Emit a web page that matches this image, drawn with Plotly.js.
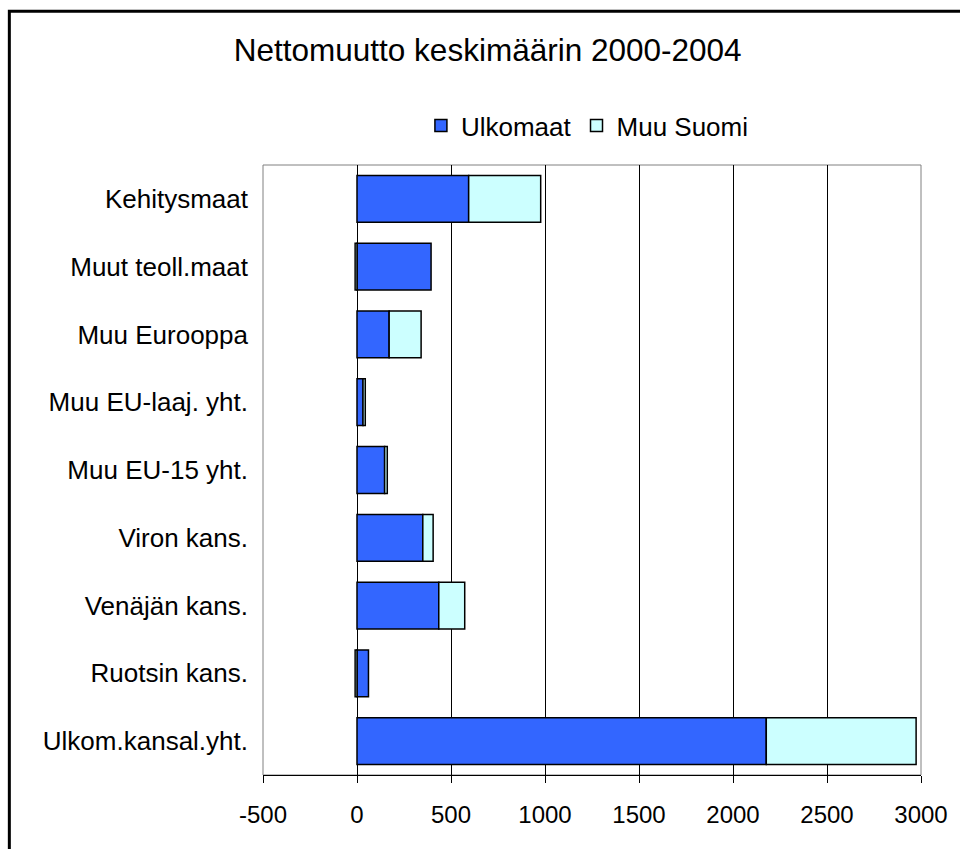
<!DOCTYPE html>
<html>
<head>
<meta charset="utf-8">
<script src="https://cdn.plot.ly/plotly-3.0.1.min.js"></script>
<style>
  html, body { margin: 0; padding: 0; background: #ffffff; }
  #chart { width: 960px; height: 849px; }
</style>
</head>
<body>
<div id="chart"></div>
<script>
// Categories, listed top to bottom as in the chart
const categories = [
  'Kehitysmaat',
  'Muut teoll.maat',
  'Muu Eurooppa',
  'Muu EU-laaj. yht.',
  'Muu EU-15 yht.',
  'Viron kans.',
  'Venäjän kans.',
  'Ruotsin kans.',
  'Ulkom.kansal.yht.'
];
// Net migration, yearly average 2000-2004
const ulkomaat = [594, 394, 171, 32, 147, 350, 435, 61, 2177];
const muuSuomi = [383, -10, 170, 12, 14, 55, 138, -10, 797];
const seriesNames = ['Ulkomaat', 'Muu Suomi'];
const xTickVals = [-500, 0, 500, 1000, 1500, 2000, 2500, 3000];
const titleText = 'Nettomuutto keskimäärin 2000-2004';

const FONT = 'Liberation Sans, Arial, sans-serif';

const traces = [
  {
    type: 'bar', orientation: 'h', name: seriesNames[0],
    y: categories, x: ulkomaat,
    marker: { color: '#3366FF', line: { color: '#000000', width: 1.5 } },
    hoverinfo: 'x+name'
  },
  {
    type: 'bar', orientation: 'h', name: seriesNames[1],
    y: categories, x: muuSuomi,
    marker: { color: '#CCFFFF', line: { color: '#000000', width: 1.5 } },
    hoverinfo: 'x+name'
  }
];

const layout = {
  width: 960, height: 849,
  margin: { l: 263, r: 39, t: 165, b: 74 },
  paper_bgcolor: '#ffffff',
  plot_bgcolor: '#ffffff',
  font: { family: FONT, color: '#000000' },
  barmode: 'relative',
  bargap: 0.31,
  showlegend: true,
  title: {
    text: titleText,
    font: { family: FONT, size: 31.5, color: '#000000' },
    x: 0.508, xanchor: 'center',
    y: 0.941, yanchor: 'middle'
  },
  legend: {
    orientation: 'h',
    x: 0.240, xanchor: 'left',
    y: 1.103, yanchor: 'top',
    traceorder: 'normal',
    font: { family: FONT, size: 26, color: '#000000' },
    itemwidth: 30,
    bgcolor: 'rgba(0,0,0,0)'
  },
  xaxis: {
    range: [-500, 3000],
    tickvals: xTickVals,
    ticktext: xTickVals.map(String),
    showgrid: true, gridcolor: '#000000', gridwidth: 1,
    zeroline: true, zerolinecolor: '#000000', zerolinewidth: 1,
    showline: true, linecolor: '#000000', linewidth: 1,
    ticks: 'outside', ticklen: 7, tickcolor: '#000000', tickwidth: 1,
    tickfont: { family: FONT, size: 24, color: '#000000' },
    ticklabelstandoff: 11,
    fixedrange: true
  },
  yaxis: {
    type: 'category',
    autorange: 'reversed',
    showgrid: false,
    zeroline: false,
    showline: false,
    ticks: '',
    tickfont: { family: FONT, size: 26, color: '#000000' },
    ticklabelstandoff: 14,
    fixedrange: true
  },
  shapes: [
    // plot area border (gray)
    { type: 'rect', xref: 'paper', yref: 'paper', x0: 0, x1: 1, y0: 0, y1: 1,
      line: { color: '#808080', width: 1 }, layer: 'below' },
    // outer chart frame
    { type: 'rect', xref: 'paper', yref: 'paper',
      x0: -0.3855, x1: 1.08, y0: -0.14, y1: 1.252,
      line: { color: '#000000', width: 3 }, fillcolor: 'rgba(0,0,0,0)' }
  ]
};

Plotly.newPlot('chart', traces, layout, { displayModeBar: false, staticPlot: true });
</script>
</body>
</html>
